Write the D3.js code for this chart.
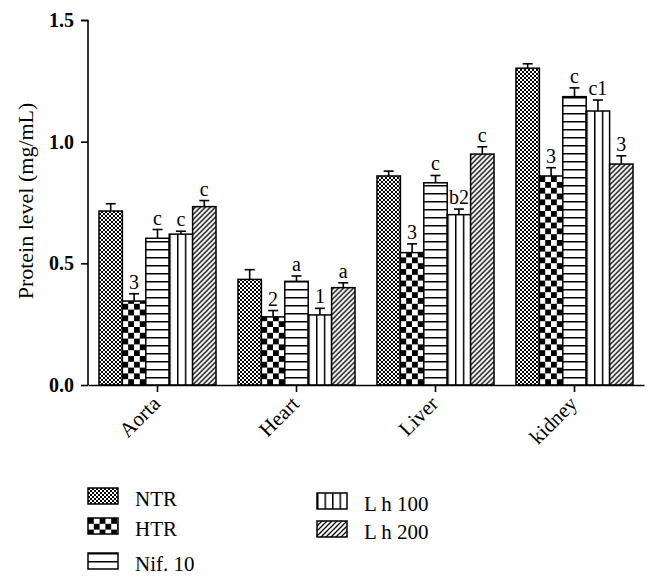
<!DOCTYPE html>
<html><head><meta charset="utf-8">
<script src="https://cdn.jsdelivr.net/npm/d3@7"></script>
<style>body{margin:0;background:#fff}svg{display:block}text{font-family:"Liberation Serif","Times New Roman",serif;fill:#000}</style>
</head><body><div id="chart"></div>
<script>
const categories = ["Aorta", "Heart", "Liver", "kidney"];
const seriesNames = ["NTR", "HTR", "Nif. 10", "L h 100", "L h 200"];
const valNTR   = [0.715, 0.434, 0.859, 1.302];
const valHTR   = [0.345, 0.280, 0.544, 0.859];
const valNif10 = [0.603, 0.426, 0.831, 1.185];
const valLh100 = [0.620, 0.288, 0.700, 1.126];
const valLh200 = [0.733, 0.400, 0.949, 0.908];
const errNTR   = [0.030, 0.040, 0.020, 0.018];
const errHTR   = [0.030, 0.026, 0.036, 0.034];
const errNif10 = [0.036, 0.022, 0.030, 0.036];
const errLh100 = [0.012, 0.027, 0.023, 0.045];
const errLh200 = [0.025, 0.020, 0.030, 0.034];
const lblNTR   = ["", "", "", ""];
const lblHTR   = ["3", "2", "3", "3"];
const lblNif10 = ["c", "a", "c", "c"];
const lblLh100 = ["c", "1", "b2", "c1"];
const lblLh200 = ["c", "a", "c", "3"];
const yTicks = [0, 0.5, 1.0, 1.5];

const values = [valNTR, valHTR, valNif10, valLh100, valLh200];
const errors = [errNTR, errHTR, errNif10, errLh100, errLh200];
const labels = [lblNTR, lblHTR, lblNif10, lblLh100, lblLh200];

const W = 658, H = 583;
const svg = d3.select("#chart").append("svg").attr("width", W).attr("height", H);
svg.append("rect").attr("width", W).attr("height", H).attr("fill", "#fff");
const defs = svg.append("defs");

const x0 = d3.scaleBand().domain(categories).range([88, 644]).paddingInner(0.158).paddingOuter(0.079);
const x1 = d3.scaleBand().domain(seriesNames).range([0, x0.bandwidth()]);
const y = d3.scaleLinear().domain([0, 1.5]).range([385, 20]);

// pattern factory; id unique per mark, anchored at (ox, oy)
function makePattern(id, kind, ox, oy, w) {
  const p = defs.append("pattern").attr("id", id).attr("patternUnits", "userSpaceOnUse");
  if (kind === 0) {
    p.attr("x", ox).attr("y", oy).attr("width", 4).attr("height", 4);
    p.append("rect").attr("width", 4).attr("height", 4).attr("fill", "#fff");
    p.append("rect").attr("width", 2).attr("height", 2).attr("fill", "#000");
    p.append("rect").attr("x", 2).attr("y", 2).attr("width", 2).attr("height", 2).attr("fill", "#000");
  } else if (kind === 1) {
    p.attr("x", ox).attr("y", oy).attr("width", 11.6).attr("height", 11.6);
    p.append("rect").attr("width", 11.6).attr("height", 11.6).attr("fill", "#fff");
    p.append("rect").attr("width", 5.8).attr("height", 5.8).attr("fill", "#000");
    p.append("rect").attr("x", 5.8).attr("y", 5.8).attr("width", 5.8).attr("height", 5.8).attr("fill", "#000");
  } else if (kind === 2) {
    p.attr("x", ox).attr("y", oy).attr("width", 10).attr("height", 8);
    p.append("rect").attr("width", 10).attr("height", 8).attr("fill", "#fff");
    p.append("line").attr("x1", 0).attr("x2", 10).attr("y1", 0).attr("y2", 0).attr("stroke", "#000").attr("stroke-width", 3);
  } else if (kind === 3) {
    p.attr("x", ox).attr("y", oy).attr("width", w).attr("height", 10);
    p.append("rect").attr("width", w).attr("height", 10).attr("fill", "#fff");
    p.append("line").attr("x1", 0).attr("x2", 0).attr("y1", 0).attr("y2", 10).attr("stroke", "#000").attr("stroke-width", 3);
  } else {
    p.attr("x", ox).attr("y", oy).attr("width", 5).attr("height", 5);
    p.append("rect").attr("width", 5).attr("height", 5).attr("fill", "#fff");
    p.append("path").attr("d", "M-1,6 L6,-1 M-1,1 L1,-1 M4,6 L6,4").attr("stroke", "#000").attr("stroke-width", 1.3);
  }
  return "url(#" + id + ")";
}

// bars
seriesNames.forEach((s, si) => {
  categories.forEach((c, ci) => {
    const bx = x0(c) + x1(s), bw = x1.bandwidth();
    const v = values[si][ci], e = errors[si][ci];
    const fill = makePattern("p" + si + "_" + ci, si, bx, y(0), bw / 3);
    const g = svg.append("g");
    g.append("line").attr("x1", bx + bw / 2).attr("x2", bx + bw / 2).attr("y1", y(v)).attr("y2", y(v + e))
      .attr("stroke", "#000").attr("stroke-width", 1.6);
    g.append("line").attr("x1", bx + bw / 2 - 5).attr("x2", bx + bw / 2 + 5).attr("y1", y(v + e)).attr("y2", y(v + e))
      .attr("stroke", "#000").attr("stroke-width", 1.6);
    g.append("rect").attr("x", bx).attr("y", y(v)).attr("width", bw).attr("height", y(0) - y(v))
      .attr("fill", fill).attr("stroke", "#000").attr("stroke-width", 1.5);
    if (labels[si][ci]) {
      g.append("text").attr("x", bx + bw / 2).attr("y", y(v + e) - 5).attr("text-anchor", "middle")
        .attr("font-size", 20).text(labels[si][ci]);
    }
  });
});

// axes
const yAxis = svg.append("g").attr("transform", "translate(88,0)")
  .call(d3.axisLeft(y).tickValues(yTicks).tickFormat(d3.format(".1f")).tickSize(7).tickPadding(7));
yAxis.selectAll("text").attr("font-size", 20).attr("font-weight", "bold")
  .style("font-family", '"Liberation Serif",serif');
yAxis.select(".domain").attr("stroke-width", 1.6).attr("d", "M-7,20.5H0V385");
yAxis.selectAll(".tick line").attr("stroke-width", 1.6);

const xAxis = svg.append("g").attr("transform", "translate(0,385)")
  .call(d3.axisBottom(x0).tickSize(7).tickSizeOuter(0));
xAxis.select(".domain").attr("stroke-width", 1.6);
xAxis.selectAll(".tick line").attr("stroke-width", 1.6);
xAxis.selectAll("text").remove();
categories.forEach(c => {
  svg.append("text").attr("transform", "translate(" + (x0(c) + x0.bandwidth() / 2 + 4) + ",405) rotate(-45)")
    .attr("text-anchor", "end").attr("font-size", 21).text(c);
});

svg.append("text").attr("transform", "translate(33,201) rotate(-90)").attr("text-anchor", "middle")
  .attr("font-size", 22).text("Protein level (mg/mL)");

// legend
const legendPos = [[88, 488], [88, 518], [88, 553], [317, 493], [317, 521]];
seriesNames.forEach((s, si) => {
  const [lx, ly] = legendPos[si];
  const fill = makePattern("lg" + si, si, lx, ly, 7.5);
  svg.append("rect").attr("x", lx).attr("y", ly).attr("width", 30).attr("height", 16)
    .attr("fill", fill).attr("stroke", "#000").attr("stroke-width", 1.5);
  svg.append("text").attr("x", lx + 47).attr("y", ly + 18).attr("font-size", 21).text(s);
});
</script></body></html>
